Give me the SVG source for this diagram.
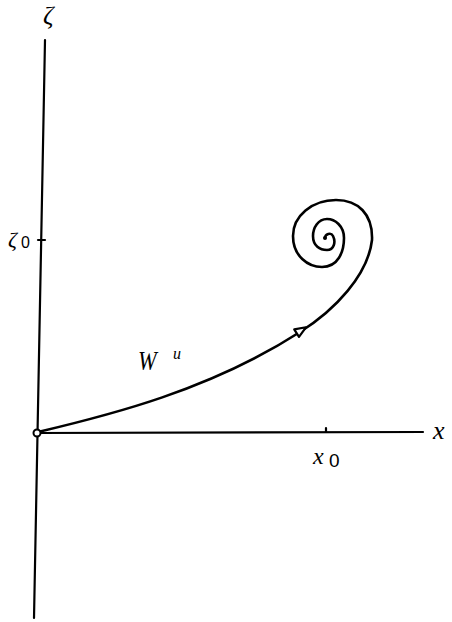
<svg xmlns="http://www.w3.org/2000/svg" width="452" height="622" viewBox="0 0 452 622">
<style>
.ax{stroke:#000;stroke-width:2.2;fill:none;stroke-linecap:round}
.cv{stroke:#000;stroke-width:2.6;fill:none;stroke-linecap:round;stroke-linejoin:round}
.it{font-family:"Liberation Serif","DejaVu Serif",serif;font-style:italic;fill:#000}
.sub{font-family:"Liberation Sans","DejaVu Sans",sans-serif;fill:#000}
</style>
<rect width="452" height="622" fill="#fff"/>
<g id="axes">
<line class="ax" x1="45" y1="40" x2="34" y2="618"/>
<line class="ax" x1="37" y1="433" x2="423" y2="432"/>
<line class="ax" x1="38" y1="240" x2="45" y2="240"/>
<line class="ax" x1="326" y1="432" x2="326" y2="428"/>
</g>
<g id="labels">
<text class="it" x="43" y="24" font-size="26">ζ</text>
<text class="it" x="8" y="247" font-size="22">ζ</text>
<text class="sub" x="21" y="248" font-size="16">0</text>
<text class="it" x="433" y="439" font-size="26">x</text>
<text class="it" x="313" y="464" font-size="24">x</text>
<text class="sub" x="329" y="467" font-size="19">0</text>
<text class="it" x="138" y="370" font-size="28" transform="translate(138,370) scale(0.8,1) translate(-138,-370)">W</text>
<text class="it" x="173" y="359" font-size="16">u</text>
</g>
<g id="connectors">
<path class="cv" d="M38,432 C110,415 210,390 300,332 C335,310 368,275 372,240 C373,214 358,200 336,200 C312,200 293,216 293,236 C293,256 308,267 322,267 C338,267 344,252 344,238 C344,226 335,219 327,219 C318,219 313,228 313,236 C313,246 320,250 327,250 C334,250 336,242 333,236 C331,232 325,234 325,238"/>
<circle cx="325" cy="238" r="2" fill="#000"/>
<polygon points="7,0 -4,-4.5 -4,4.5" transform="translate(300,331) rotate(-32)" fill="#fff" stroke="#000" stroke-width="2.2" stroke-linejoin="round"/>
</g>
<g id="origin">
<circle cx="37" cy="433" r="3.5" fill="#fff" stroke="#000" stroke-width="2"/>
</g>
</svg>
